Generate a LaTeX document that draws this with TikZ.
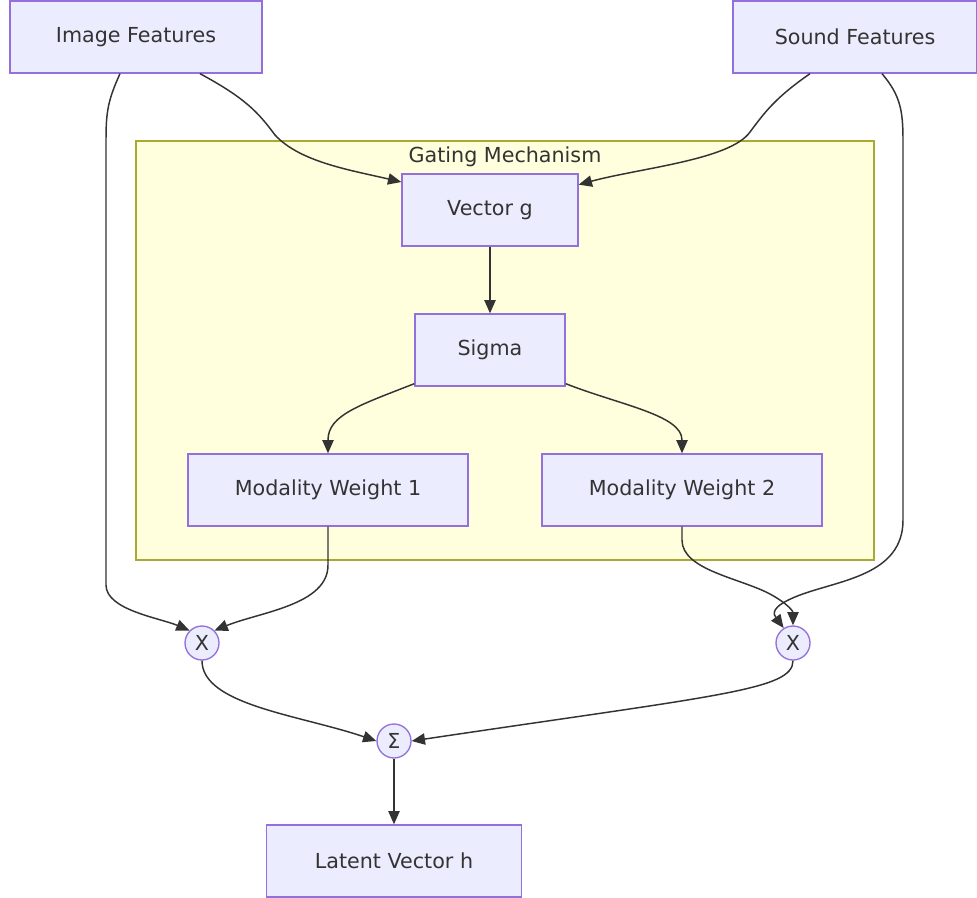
\documentclass[tikz,border=0pt]{standalone}
\usepackage{fontspec}
\setmainfont{DejaVu Sans}
\usetikzlibrary{positioning,arrows.meta}
\definecolor{nodefill}{HTML}{ECECFF}
\definecolor{nodeline}{HTML}{9370DB}
\definecolor{gatefill}{HTML}{FFFFDE}
\definecolor{gateline}{HTML}{AAAA33}
\definecolor{ink}{HTML}{333333}

\begin{document}
\begin{tikzpicture}[
                x=0.75pt, y=-0.75pt,
                on grid,
                font=\fontsize{15.5}{18}\selectfont,
                text=ink,
                box/.style={draw=nodeline, fill=nodefill, line width=1pt,
                    minimum height=54pt},
                op/.style={circle, draw=nodeline, fill=nodefill, line width=1pt,
                    minimum size=25.5pt, inner sep=0pt},
                gate/.style={draw=gateline, fill=gatefill, line width=1pt,
                    minimum width=553.5pt, minimum height=314.25pt},
                flow/.style={draw=ink, line width=1.1pt,
                    -{Triangle[length=10pt,width=8.5pt]}}]
            \useasboundingbox (0,0) rectangle (977,897);

            % gating subgraph
            \node[gate] (gating) at (505,350.5) {};
            \node (gating_lbl) at (505,157) {Gating Mechanism};

            % inputs
            \node[box, minimum width=189pt] (img_f) at (136,37) {Image Features};
            \node[box, minimum width=183pt] (snd_f) [right=539.25pt of img_f] {Sound Features};

            % gate internals
            \node[box, minimum width=132pt] (vec_g) at (490,210) {Vector g};
            \node[box, minimum width=112.5pt] (sigma) [below=105pt of vec_g] {Sigma};
            \node[box, minimum width=210pt] (mw_1) [below left=105pt and 121.5pt of sigma] {Modality Weight 1};
            \node[box, minimum width=210pt] (mw_2) [below right=105pt and 144pt of sigma] {Modality Weight 2};

            % products, sum, output
            \node[op] (mul_1) at (202,643) {X};
            \node[op] (mul_2) at (793,643) {X};
            \node[op] (sum) at (394,741) {Σ};
            \node[box, minimum width=191.25pt] (lat_h) [below=90pt of sum] {Latent Vector h};

            \path[flow]
            ([xshift=-12pt]img_f.south) .. controls (108,100) and (106,112) .. (106,140)
                -- (106,585) .. controls (106,610) and (160,618) .. (mul_1.135);
            \path[flow]
            ([xshift=48pt]img_f.south) .. controls (245,98) and (258,112) .. (275,135)
                .. controls (300,162) and (350,170) .. ([yshift=21pt]vec_g.west);
            \path[flow]
            ([xshift=-33.75pt]snd_f.south) .. controls (775,98) and (765,112) .. (750,132)
                .. controls (730,160) and (640,168) .. ([yshift=19pt]vec_g.east);
            \path[flow]
            ([xshift=20.25pt]snd_f.south) .. controls (900,95) and (903,110) .. (903,140)
                -- (903,520) .. controls (903,575) and (840,580) .. (800,595)
                .. controls (768,607) and (774,615) .. (mul_2.122);
            \path[flow] (vec_g) -- (sigma);
            \path[flow]
            ([yshift=2.25pt]sigma.south west) .. controls (360,405) and (328,415) .. (328,440)
                -- (mw_1);
            \path[flow]
            ([yshift=2.25pt]sigma.south east) .. controls (620,405) and (682,415) .. (682,440)
                -- (mw_2);
            \path[flow]
            (mw_1.south) -- (328,565) .. controls (328,605) and (260,612) .. (mul_1.45);
            \path[flow]
            (mw_2.south) -- (682,540) .. controls (682,570) and (740,578) .. (770,594)
                .. controls (790,605) and (793,612) .. (mul_2.north);
            \path[flow]
            (mul_1.south) .. controls (202,705) and (300,715) .. (sum.west);
            \path[flow]
            (mul_2.south) .. controls (793,690) and (720,695) .. (sum.east);
            \path[flow] (sum) -- (lat_h);
        \end{tikzpicture}
\end{document}
